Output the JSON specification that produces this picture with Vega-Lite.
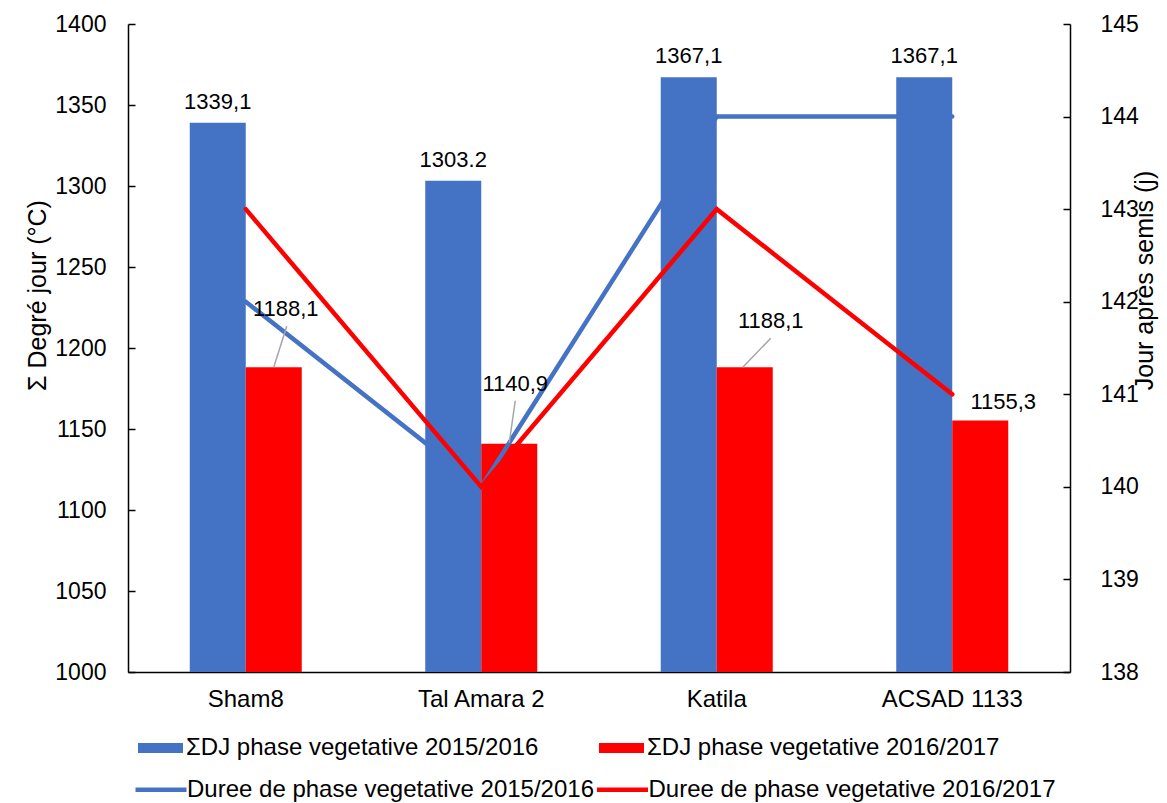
{
  "$schema": "https://vega.github.io/schema/vega-lite/v6.json",
  "width": 942,
  "height": 648,
  "autosize": {"type": "none"},
  "padding": {"left": 128, "top": 24, "right": 97, "bottom": 131},
  "background": "white",
  "config": {
    "font": "Liberation Sans",
    "view": {"stroke": null},
    "axis": {
      "grid": false,
      "domainColor": "black",
      "domainWidth": 1.5,
      "tickColor": "black",
      "tickWidth": 1.5,
      "labelFontSize": 23,
      "labelColor": "black",
      "labelFont": "Liberation Sans",
      "titleFont": "Liberation Sans",
      "titleFontSize": 25,
      "titleFontWeight": "normal",
      "titleColor": "black"
    },
    "legend": {
      "orient": "none",
      "direction": "horizontal",
      "columns": 2,
      "labelFontSize": 24,
      "labelFont": "Liberation Sans",
      "labelColor": "black",
      "labelLimit": 600,
      "symbolSize": 400,
      "labelOffset": 13.5,
      "symbolOpacity": 1
    }
  },
  "datasets": {
    "bars": [
      {"variety": "Sham8", "series": "ΣDJ phase vegetative 2015/2016", "value": 1339.1, "label": "1339,1"},
      {"variety": "Tal Amara 2", "series": "ΣDJ phase vegetative 2015/2016", "value": 1303.2, "label": "1303.2"},
      {"variety": "Katila", "series": "ΣDJ phase vegetative 2015/2016", "value": 1367.1, "label": "1367,1"},
      {"variety": "ACSAD 1133", "series": "ΣDJ phase vegetative 2015/2016", "value": 1367.1, "label": "1367,1"},
      {"variety": "Sham8", "series": "ΣDJ phase vegetative 2016/2017", "value": 1188.1, "label": "1188,1"},
      {"variety": "Tal Amara 2", "series": "ΣDJ phase vegetative 2016/2017", "value": 1140.9, "label": "1140,9"},
      {"variety": "Katila", "series": "ΣDJ phase vegetative 2016/2017", "value": 1188.1, "label": "1188,1"},
      {"variety": "ACSAD 1133", "series": "ΣDJ phase vegetative 2016/2017", "value": 1155.3, "label": "1155,3"}
    ],
    "lines": [
      {"variety": "Sham8", "series": "Duree de phase vegetative 2015/2016", "days": 142},
      {"variety": "Tal Amara 2", "series": "Duree de phase vegetative 2015/2016", "days": 140},
      {"variety": "Katila", "series": "Duree de phase vegetative 2015/2016", "days": 144},
      {"variety": "ACSAD 1133", "series": "Duree de phase vegetative 2015/2016", "days": 144},
      {"variety": "Sham8", "series": "Duree de phase vegetative 2016/2017", "days": 143},
      {"variety": "Tal Amara 2", "series": "Duree de phase vegetative 2016/2017", "days": 140},
      {"variety": "Katila", "series": "Duree de phase vegetative 2016/2017", "days": 143},
      {"variety": "ACSAD 1133", "series": "Duree de phase vegetative 2016/2017", "days": 141}
    ]
  },
  "encoding": {
    "x": {
      "field": "variety",
      "type": "nominal",
      "sort": ["Sham8", "Tal Amara 2", "Katila", "ACSAD 1133"],
      "scale": {"paddingInner": 0.5244, "paddingOuter": 0.2622},
      "axis": {"title": null, "ticks": false, "labelPadding": 15, "labelAngle": 0, "labelFontSize": 24}
    }
  },
  "layer": [
    {
      "data": {"name": "bars"},
      "mark": {"type": "bar", "clip": true},
      "encoding": {
        "xOffset": {"field": "series", "type": "nominal", "scale": {"paddingInner": 0, "paddingOuter": 0}},
        "y": {
          "field": "value",
          "type": "quantitative",
          "scale": {"domain": [1000, 1400], "zero": false, "nice": false},
          "axis": {"orient": "left", "title": "Σ Degré jour (°C)", "format": "d", "values": [1000, 1050, 1100, 1150, 1200, 1250, 1300, 1350, 1400], "tickSize": -7, "labelPadding": 29, "titleX": -91, "titleY": 271, "titleAngle": -90, "titleBaseline": "middle", "titleAlign": "center"}
        },
        "color": {
          "field": "series",
          "type": "nominal",
          "scale": {
            "domain": ["ΣDJ phase vegetative 2015/2016", "ΣDJ phase vegetative 2016/2017"],
            "range": ["#4472C4", "#FF0000"]
          },
          "legend": {
            "title": null,
            "legendX": 20.5,
            "legendY": 712,
            "columnPadding": 60,
            "symbolType": "M-2.25,-0.5H2.25V0.5H-2.25Z"
          }
        }
      }
    },
    {
      "data": {"name": "lines"},
      "mark": {"type": "line", "strokeWidth": 4.5, "strokeCap": "round"},
      "encoding": {
        "y": {
          "field": "days",
          "type": "quantitative",
          "scale": {"domain": [138, 145], "zero": false, "nice": false},
          "axis": {"orient": "right", "title": "Jour après semis (j)", "format": "d", "values": [138, 139, 140, 141, 142, 143, 144, 145], "tickSize": -7, "labelPadding": 37, "titleX": 74, "titleY": 256, "titleAngle": -90, "titleBaseline": "middle", "titleAlign": "center"}
        },
        "stroke": {
          "field": "series",
          "type": "nominal",
          "scale": {
            "domain": ["Duree de phase vegetative 2015/2016", "Duree de phase vegetative 2016/2017"],
            "range": ["#4472C4", "#FF0000"]
          },
          "legend": {
            "title": null,
            "legendX": 20.5,
            "legendY": 753,
            "columnPadding": -6.5,
            "symbolType": "M-2.55,0H2.55",
            "symbolStrokeWidth": 4.5
          }
        }
      }
    },
    {
      "data": {"name": "bars"},
      "encoding": {
        "y": {"field": "value", "type": "quantitative", "scale": {"domain": [1000, 1400], "zero": false, "nice": false}, "axis": null}
      },
      "layer": [
        {
          "transform": [{"filter": "datum.series === 'ΣDJ phase vegetative 2016/2017' && datum.variety === 'Sham8'"}],
          "mark": {"type": "rule", "color": "#A6A6A6", "strokeWidth": 1.5, "xOffset": 28, "x2Offset": 41, "y2Offset": -41},
          "encoding": {
            "x2": {"field": "variety"},
            "y2": {"field": "value"}
          }
        },
        {
          "transform": [{"filter": "datum.series === 'ΣDJ phase vegetative 2016/2017' && datum.variety === 'Tal Amara 2'"}],
          "mark": {"type": "rule", "color": "#A6A6A6", "strokeWidth": 1.5, "xOffset": 28, "yOffset": -1, "x2Offset": 34, "y2Offset": -43},
          "encoding": {
            "x2": {"field": "variety"},
            "y2": {"field": "value"}
          }
        },
        {
          "transform": [{"filter": "datum.series === 'ΣDJ phase vegetative 2016/2017' && datum.variety === 'Katila'"}],
          "mark": {"type": "rule", "color": "#A6A6A6", "strokeWidth": 1.5, "xOffset": 26, "x2Offset": 54, "y2Offset": -29},
          "encoding": {
            "x2": {"field": "variety"},
            "y2": {"field": "value"}
          }
        },
        {
          "transform": [{"filter": "indexof(datum.series, '2015/2016') >= 0"}],
          "mark": {"type": "text", "fontSize": 22, "color": "black", "baseline": "middle", "dy": -21},
          "encoding": {
            "xOffset": {"field": "series", "type": "nominal", "scale": {"domain": ["ΣDJ phase vegetative 2015/2016", "ΣDJ phase vegetative 2016/2017"], "paddingInner": 0, "paddingOuter": 0}},
            "text": {"field": "label"}
          }
        },
        {
          "transform": [{"filter": "datum.series === 'ΣDJ phase vegetative 2016/2017' && datum.variety === 'Sham8'"}],
          "mark": {"type": "text", "fontSize": 22, "color": "black", "baseline": "middle", "dx": 12, "dy": -58},
          "encoding": {
            "xOffset": {"field": "series", "type": "nominal", "scale": {"domain": ["ΣDJ phase vegetative 2015/2016", "ΣDJ phase vegetative 2016/2017"], "paddingInner": 0, "paddingOuter": 0}},
            "text": {"field": "label"}
          }
        },
        {
          "transform": [{"filter": "datum.series === 'ΣDJ phase vegetative 2016/2017' && datum.variety === 'Tal Amara 2'"}],
          "mark": {"type": "text", "fontSize": 22, "color": "black", "baseline": "middle", "dx": 6, "dy": -60},
          "encoding": {
            "xOffset": {"field": "series", "type": "nominal", "scale": {"domain": ["ΣDJ phase vegetative 2015/2016", "ΣDJ phase vegetative 2016/2017"], "paddingInner": 0, "paddingOuter": 0}},
            "text": {"field": "label"}
          }
        },
        {
          "transform": [{"filter": "datum.series === 'ΣDJ phase vegetative 2016/2017' && datum.variety === 'Katila'"}],
          "mark": {"type": "text", "fontSize": 22, "color": "black", "baseline": "middle", "dx": 26, "dy": -46},
          "encoding": {
            "xOffset": {"field": "series", "type": "nominal", "scale": {"domain": ["ΣDJ phase vegetative 2015/2016", "ΣDJ phase vegetative 2016/2017"], "paddingInner": 0, "paddingOuter": 0}},
            "text": {"field": "label"}
          }
        },
        {
          "transform": [{"filter": "datum.series === 'ΣDJ phase vegetative 2016/2017' && datum.variety === 'ACSAD 1133'"}],
          "mark": {"type": "text", "fontSize": 22, "color": "black", "baseline": "middle", "dx": 23, "dy": -18},
          "encoding": {
            "xOffset": {"field": "series", "type": "nominal", "scale": {"domain": ["ΣDJ phase vegetative 2015/2016", "ΣDJ phase vegetative 2016/2017"], "paddingInner": 0, "paddingOuter": 0}},
            "text": {"field": "label"}
          }
        }
      ]
    }
  ],
  "resolve": {"scale": {"y": "independent"}}
}
